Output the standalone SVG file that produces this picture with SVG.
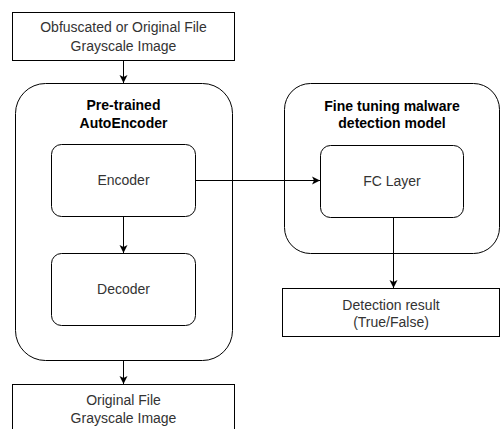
<svg xmlns="http://www.w3.org/2000/svg" width="501" height="429" viewBox="0 0 501 429">
<defs>
<marker id="ah" markerWidth="10" markerHeight="10" refX="9" refY="5" orient="auto" markerUnits="userSpaceOnUse">
<path d="M1,1 L9,5 L1,9 L3,5 Z" fill="#000"/>
</marker>
<style>
.box{fill:#fff;stroke:#000;stroke-width:1}
.t{font-family:"Liberation Sans",Arial,sans-serif;font-size:14px;fill:#333;text-anchor:middle}
.b{font-family:"Liberation Sans",Arial,sans-serif;font-size:14px;font-weight:bold;fill:#000;text-anchor:middle}
.c{stroke:#000;stroke-width:1;fill:none}
</style>
</defs>
<rect width="501" height="429" fill="#fff"/>
<g id="input">
<rect class="box" x="12.5" y="12.5" width="222" height="48"/>
<text class="t" x="123.5" y="32">Obfuscated or Original File</text>
<text class="t" x="123.5" y="51">Grayscale Image</text>
</g>
<g id="autoencoder">
<rect class="box" x="15.5" y="83.5" width="217" height="277" rx="30" ry="30"/>
<text class="b" x="123.5" y="110">Pre-trained</text>
<text class="b" x="123.5" y="128">AutoEncoder</text>
</g>
<g id="encoder">
<rect class="box" x="51.5" y="144.5" width="144" height="72" rx="10" ry="10"/>
<text class="t" x="123.5" y="185">Encoder</text>
</g>
<g id="decoder">
<rect class="box" x="51.5" y="253.5" width="144" height="72" rx="10" ry="10"/>
<text class="t" x="123.5" y="294">Decoder</text>
</g>
<g id="output">
<rect class="box" x="12.5" y="384.5" width="222" height="50"/>
<text class="t" x="123.5" y="405">Original File</text>
<text class="t" x="123.5" y="423">Grayscale Image</text>
</g>
<g id="finetune">
<rect class="box" x="284.5" y="83.5" width="215" height="170" rx="26" ry="26"/>
<text class="b" x="392" y="111">Fine tuning malware</text>
<text class="b" x="392" y="128">detection model</text>
</g>
<g id="fclayer">
<rect class="box" x="320.5" y="145.5" width="143" height="72" rx="10" ry="10"/>
<text class="t" x="392" y="186">FC Layer</text>
</g>
<g id="result">
<rect class="box" x="282.5" y="288.5" width="217" height="48"/>
<text class="t" x="391" y="310">Detection result</text>
<text class="t" x="391" y="327">(True/False)</text>
</g>
<g id="connectors">
<path class="c" d="M123.5,60.5 L123.5,83" marker-end="url(#ah)"/>
<path class="c" d="M123.5,216.5 L123.5,253" marker-end="url(#ah)"/>
<path class="c" d="M123.5,360.5 L123.5,384" marker-end="url(#ah)"/>
<path class="c" d="M195.5,180.5 L320,180.5" marker-end="url(#ah)"/>
<path class="c" d="M393.5,217.5 L393.5,288" marker-end="url(#ah)"/>
</g>
</svg>
